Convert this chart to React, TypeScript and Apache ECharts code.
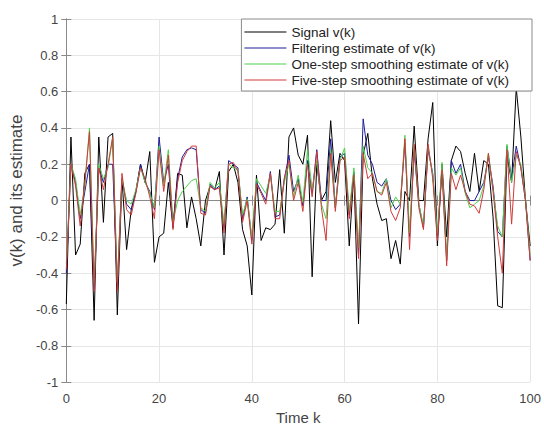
import React, { useEffect, useRef } from "react";
import * as echarts from "echarts";

const steps: number[] = Array.from({ length: 101 }, (_, i) => i);

const signal: number[] = [
  -0.57, 0.35, -0.30, -0.24, 0.15, 0.20, -0.66, 0.35, -0.12, 0.35,
  0.37, -0.63, 0.12, -0.27, -0.05, 0.05, 0.20, 0.10, 0.27, -0.34,
  -0.20, -0.18, 0.10, -0.15, 0.15, 0.14, -0.15, 0.02, -0.10, -0.25,
  0.00, 0.08, 0.06, 0.16, -0.30, 0.16, 0.20, 0.10, -0.16, -0.25,
  -0.52, 0.14, -0.22, -0.15, -0.16, -0.13, 0.17, -0.18, 0.35, 0.40,
  0.25, 0.20, 0.36, -0.42, 0.20, 0.00, 0.05, 0.44, 0.10, 0.26,
  0.22, -0.25, 0.15, -0.68, 0.25, 0.37, 0.12, -0.02, -0.11, -0.10,
  -0.32, -0.22, -0.35, 0.05, 0.00, 0.41, 0.00, 0.00, 0.34, 0.54,
  -0.25, 0.20, -0.20, 0.22, 0.30, 0.27, 0.15, 0.05, 0.26, 0.05,
  0.22, 0.20, -0.09, -0.58, -0.59, 0.25, 0.10, 0.62, 0.35, 0.00,
  -0.25,
];

const filtering: number[] = [
  -0.40, 0.20, 0.10, -0.10, 0.05, 0.20, -0.49, 0.18, 0.10, 0.20,
  0.20, -0.47, 0.12, -0.02, -0.05, 0.05, 0.20, 0.10, 0.05, -0.05,
  0.35, 0.10, 0.20, -0.14, 0.12, 0.24, 0.28, 0.29, 0.28, -0.05,
  -0.07, 0.09, 0.06, 0.08, -0.15, 0.22, 0.20, 0.18, -0.10, 0.02,
  -0.22, 0.10, 0.05, 0.00, 0.16, -0.09, -0.08, 0.12, 0.25, 0.05,
  0.12, -0.03, 0.22, 0.04, 0.28, 0.00, 0.00, 0.34, -0.04, 0.24,
  0.26, -0.08, 0.16, -0.30, 0.45, 0.25, 0.20, 0.10, 0.08, 0.12,
  0.00, -0.05, -0.02, 0.32, -0.20, 0.27, -0.02, -0.15, 0.28, 0.15,
  -0.20, 0.18, -0.33, 0.22, 0.15, 0.20, 0.05, 0.00, 0.00, 0.05,
  0.10, 0.24, 0.08, -0.17, -0.20, 0.30, 0.12, 0.30, 0.18, 0.00,
  -0.33,
];

const oneStep: number[] = [
  -0.35, 0.20, 0.12, -0.08, 0.08, 0.40, -0.45, 0.20, 0.12, 0.18,
  0.35, -0.45, 0.12, 0.00, -0.02, 0.06, 0.18, 0.10, 0.04, -0.04,
  0.30, 0.08, 0.28, -0.12, 0.00, 0.05, 0.08, 0.11, 0.12, -0.04,
  -0.06, 0.10, 0.07, 0.10, -0.13, 0.20, 0.18, 0.17, -0.08, 0.01,
  -0.20, 0.12, 0.08, 0.04, 0.14, -0.06, -0.06, 0.10, 0.20, 0.02,
  0.14, -0.01, 0.28, 0.06, 0.22, -0.02, -0.10, 0.28, -0.04, 0.22,
  0.29, -0.06, 0.18, -0.26, 0.30, 0.18, 0.15, 0.05, 0.04, 0.12,
  -0.04, 0.02, -0.02, 0.36, -0.18, 0.30, -0.02, -0.14, 0.30, 0.14,
  -0.18, 0.21, -0.32, 0.18, 0.14, 0.18, 0.04, -0.04, -0.02, 0.00,
  0.08, 0.26, 0.06, -0.14, -0.20, 0.31, 0.10, 0.25, 0.20, 0.01,
  -0.30,
];

const fiveStep: number[] = [
  -0.38, 0.20, 0.08, -0.14, 0.10, 0.38, -0.50, 0.18, 0.06, 0.20,
  0.35, -0.50, 0.15, -0.05, -0.08, 0.04, 0.18, 0.12, 0.02, -0.10,
  0.28, 0.05, 0.25, -0.16, 0.10, 0.22, 0.27, 0.30, 0.30, -0.07,
  -0.08, 0.08, 0.06, 0.07, -0.18, 0.20, 0.21, 0.16, -0.12, 0.00,
  -0.24, 0.09, 0.04, -0.02, 0.15, -0.10, -0.10, 0.12, 0.22, 0.00,
  0.10, -0.06, 0.20, 0.02, 0.27, -0.04, -0.22, 0.26, -0.06, 0.22,
  0.24, -0.10, 0.14, -0.32, 0.26, 0.12, 0.15, 0.05, 0.03, 0.10,
  -0.06, -0.11, -0.04, 0.34, -0.27, 0.31, -0.04, -0.16, 0.31, 0.12,
  -0.22, 0.17, -0.36, 0.15, 0.06, 0.14, 0.05, -0.02, -0.03, -0.07,
  0.06, 0.26, 0.05, -0.20, -0.40, 0.28, -0.13, 0.27, 0.18, 0.00,
  -0.33,
];

const seriesNames: string[] = [
  "Signal v(k)",
  "Filtering estimate of v(k)",
  "One-step smoothing estimate of v(k)",
  "Five-step smoothing estimate of v(k)",
];
const seriesColors: string[] = ["#000000", "#1c1c9a", "#4fd04f", "#d23a3a"];

const FONT = "'Liberation Sans', Arial, Helvetica, sans-serif";
const AXIS_COLOR = "#8a8a8a";
const LABEL_COLOR = "#444444";

export default function App() {
  const ref = useRef<HTMLDivElement>(null);

  useEffect(() => {
    if (!ref.current) return;
    const chart = echarts.init(ref.current, undefined, { renderer: "svg" });
    const allData = [signal, filtering, oneStep, fiveStep];

    const baseX = {
      type: "value" as const,
      min: 0,
      max: 100,
      interval: 20,
      axisLine: { show: true, lineStyle: { color: AXIS_COLOR, width: 1 } },
      axisTick: { show: true, inside: true, length: 5, lineStyle: { color: AXIS_COLOR } },
    };
    const baseY = {
      type: "value" as const,
      min: -1,
      max: 1,
      interval: 0.2,
      axisLine: { show: true, lineStyle: { color: AXIS_COLOR, width: 1 } },
      axisTick: { show: true, inside: true, length: 5, lineStyle: { color: AXIS_COLOR } },
    };

    chart.setOption({
      animation: false,
      backgroundColor: "#ffffff",
      textStyle: { fontFamily: FONT },
      grid: { left: 62, right: 12, top: 19, bottom: 41, containLabel: false },
      legend: {
        data: seriesNames,
        orient: "vertical",
        right: 12,
        top: 19,
        itemWidth: 42,
        itemHeight: 1,
        itemGap: 0,
        icon: "rect",
        padding: [5, 23, 3, 3],
        backgroundColor: "#ffffff",
        borderColor: "#8a8a8a",
        borderWidth: 1,
        borderRadius: 0,
        textStyle: { fontSize: 13.5, color: "#222", fontFamily: FONT, lineHeight: 16 },
      },
      xAxis: [
        {
          ...baseX,
          position: "bottom",
          name: "Time k",
          nameLocation: "middle",
          nameGap: 22,
          nameTextStyle: { fontSize: 15, color: LABEL_COLOR, fontFamily: FONT },
          axisLabel: { show: true, fontSize: 13, color: LABEL_COLOR, margin: 10, fontFamily: FONT },
          splitLine: { show: true, lineStyle: { color: "#e6e6e6", width: 1 } },
        },
        {
          ...baseX,
          position: "top",
          axisLabel: { show: false },
          splitLine: { show: false },
        },
      ],
      yAxis: [
        {
          ...baseY,
          position: "left",
          name: "v(k) and its estimate",
          nameLocation: "middle",
          nameGap: 38,
          nameTextStyle: { fontSize: 17, color: LABEL_COLOR, fontFamily: FONT, padding: [0, 0, 0, 20] },
          axisLabel: { show: true, fontSize: 13, color: LABEL_COLOR, margin: 8, fontFamily: FONT },
          splitLine: { show: true, lineStyle: { color: "#e6e6e6", width: 1 } },
        },
        {
          ...baseY,
          position: "right",
          axisLabel: { show: false },
          splitLine: { show: false },
        },
      ],
      series: seriesNames.map((name, i) => ({
        name,
        type: "line",
        xAxisIndex: 0,
        yAxisIndex: 0,
        symbol: "none",
        showSymbol: false,
        color: seriesColors[i],
        lineStyle: { color: seriesColors[i], width: 1 },
        data: steps.map((k) => [k, allData[i][k]]),
      })),
    });

    return () => chart.dispose();
  }, []);

  return (
    <div
      ref={ref}
      style={{ position: "fixed", left: 0, top: 0, width: 544, height: 430, background: "#fff" }}
    />
  );
}
